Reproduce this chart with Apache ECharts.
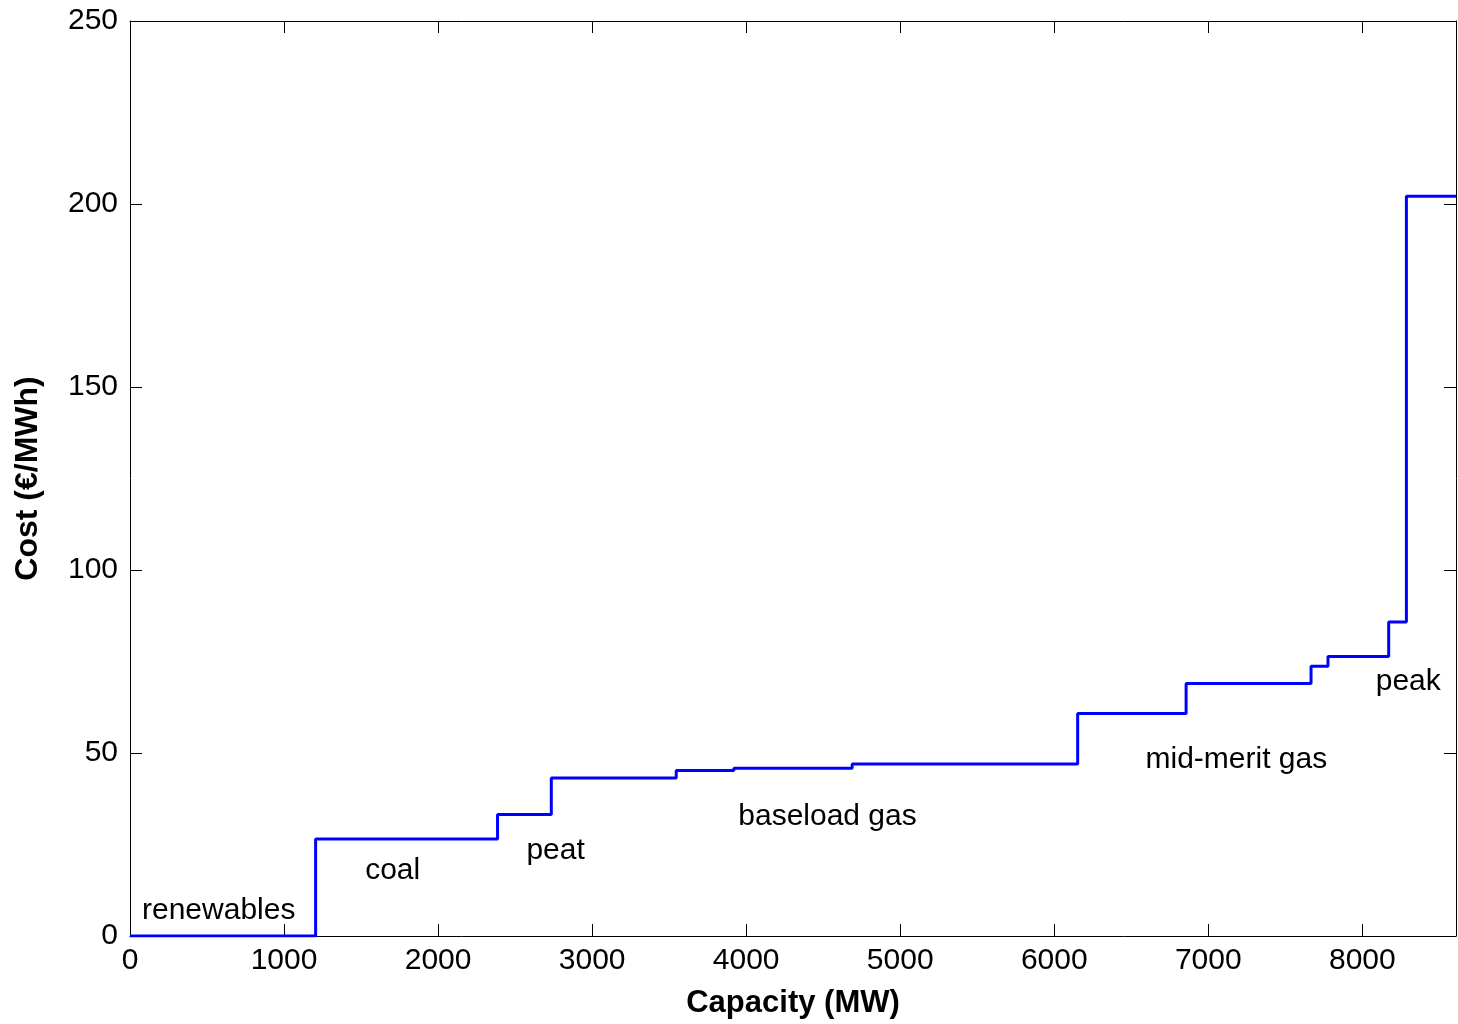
<!DOCTYPE html>
<html>
<head>
<meta charset="utf-8">
<script src="https://cdn.jsdelivr.net/npm/echarts@6/dist/echarts.min.js"></script>
<style>
  html, body { margin: 0; padding: 0; background: #fff; }
  #chart { width: 1458px; height: 1024px; }
</style>
</head>
<body>
<div id="chart"></div>
<script>
// merit order: left edge of each block (MW) and its cost (EUR/MWh)
var capacity = [0, 1205, 2386, 2735, 3546, 3920, 4688, 6152, 6856, 7667, 7777, 8171, 8286, 8608];
var cost     = [0, 26.5, 33.2, 43.2, 45.2, 45.8, 47.0, 60.8, 69.0, 73.7, 76.4, 85.8, 202.1, 202.1];

var xTicks = [0, 1000, 2000, 3000, 4000, 5000, 6000, 7000, 8000];
var yTicks = [0, 50, 100, 150, 200, 250];

// text labels in the plot: name, x (MW), y (EUR/MWh)
var labelNames = ['renewables', 'coal', 'peat', 'baseload gas', 'mid-merit gas', 'peak'];
var labelX     = [576, 1705, 2763, 4528, 7182, 8298];
var labelY     = [6.9, 17.8, 23.3, 32.6, 48.1, 69.4];

var chart = echarts.init(document.getElementById('chart'));
var font = 'Liberation Sans, Arial, sans-serif';

var curve = [];
for (var i = 0; i < capacity.length; ++i) curve.push([capacity[i], cost[i]]);
var notes = [];
for (var j = 0; j < labelNames.length; ++j) notes.push({name: labelNames[j], value: [labelX[j], labelY[j]]});

function axisBase(pos, show) {
    return {
        type: 'value', position: pos,
        axisLine: {show: true, onZero: false, lineStyle: {color: '#000', width: 1}},
        axisTick: {show: true, inside: true, length: 12, lineStyle: {color: '#000'}},
        splitLine: {show: false},
        axisLabel: {show: show, color: '#000', fontSize: 30, fontFamily: font, margin: 12,
                    formatter: function (v) { return String(v); }}
    };
}

var xMain = axisBase('bottom', true);
xMain.min = 0; xMain.max = 8608; xMain.interval = 1000;
xMain.axisLabel.showMaxLabel = false;
xMain.axisLabel.margin = 10;
xMain.name = 'Capacity (MW)';
xMain.nameLocation = 'middle';
xMain.nameGap = 52;
xMain.nameTextStyle = {color: '#000', fontSize: 31, fontWeight: 'bold', fontFamily: font};
var xTop = axisBase('top', false);
xTop.min = 0; xTop.max = 8608; xTop.interval = 1000;

var yMain = axisBase('left', true);
yMain.min = 0; yMain.max = 250; yMain.interval = 50;
yMain.name = 'Cost (\u20ac/MWh)';
yMain.nameLocation = 'middle';
yMain.nameGap = 86;
yMain.nameTextStyle = {color: '#000', fontSize: 32, fontWeight: 'bold', fontFamily: font};
var yRight = axisBase('right', false);
yRight.min = 0; yRight.max = 250; yRight.interval = 50;

var option = {
    backgroundColor: '#fff',
    animation: false,
    grid: {left: 130, right: 2, top: 21, bottom: 87, containLabel: false},
    xAxis: [xMain, xTop],
    yAxis: [yMain, yRight],
    series: [
        {
            type: 'line', step: 'end', data: curve,
            xAxisIndex: 0, yAxisIndex: 0,
            symbol: 'none',
            lineStyle: {color: '#0000ff', width: 3}
        },
        {
            type: 'scatter', data: notes,
            xAxisIndex: 0, yAxisIndex: 0,
            symbolSize: 0,
            itemStyle: {opacity: 1, color: '#000'},
            label: {
                show: true, position: 'inside', formatter: '{b}',
                color: '#000', fontSize: 30, fontFamily: font
            }
        }
    ]
};
chart.setOption(option);
</script>
</body>
</html>
